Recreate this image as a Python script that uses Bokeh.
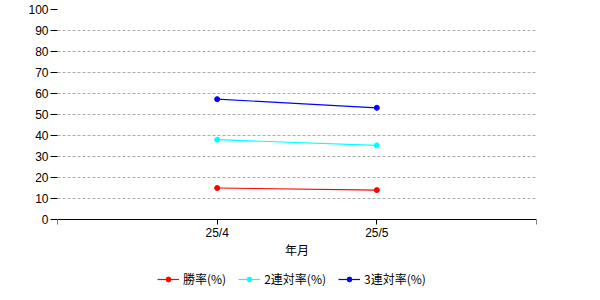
from bokeh.plotting import figure
from bokeh.models import FixedTicker, Legend, LegendItem, Range1d
from bokeh.embed import file_html
from bokeh.resources import INLINE

months = ["25/4", "25/5"]
win_rate = [15.0, 14.0]
top2_rate = [38.0, 35.3]
top3_rate = [57.3, 53.2]
series_names = ["勝率(%)", "2連対率(%)", "3連対率(%)"]
series_colors = ["#ff0000", "#00ffff", "#0000ff"]
y_ticks = list(range(0, 101, 10))

xs = list(range(1, len(months) + 1))

# plot area: y=100 at 9px, y=0 at 219px -> 2.1 px per unit; frame extends to 300px
y_min = -81 / 2.1

p = figure(frame_width=479, frame_height=291, output_backend="svg", toolbar_location=None,
           x_range=Range1d(0, len(months) + 1), y_range=Range1d(y_min, 100),
           min_border_left=57, min_border_right=64, min_border_top=9, min_border_bottom=0)
p.outline_line_color = None
p.background_fill_color = "white"
p.border_fill_color = "white"

items = []
for name, vals, col in zip(series_names, [win_rate, top2_rate, top3_rate], series_colors):
    r1 = p.line(xs, vals, line_color=col, line_width=1.2)
    r2 = p.scatter(xs, vals, size=5, fill_color=col, line_color=col)
    items.append(LegendItem(label=name, renderers=[r1, r2]))

# y axis
p.yaxis.ticker = FixedTicker(ticks=y_ticks)
p.yaxis.axis_line_color = None
p.yaxis.major_tick_out = 7
p.yaxis.major_tick_in = 0
p.yaxis.minor_tick_line_color = None
p.yaxis.major_label_standoff = 2
p.yaxis.major_label_text_font = "Liberation Sans"
p.yaxis.major_label_text_font_size = "12px"
p.yaxis.major_label_text_color = "black"

# x axis, drawn at y = 0
p.xaxis.fixed_location = 0
p.xaxis.ticker = FixedTicker(ticks=[0] + xs + [len(months) + 1])
p.xaxis.major_label_overrides = {**{x: m for x, m in zip(xs, months)}, 0: "", len(months) + 1: ""}
p.xaxis.axis_line_color = "black"
p.xaxis.major_tick_out = 5
p.xaxis.major_tick_in = 0
p.xaxis.minor_tick_line_color = None
p.xaxis.major_label_standoff = 1
p.xaxis.major_label_text_font = "Liberation Sans"
p.xaxis.major_label_text_font_size = "12px"
p.xaxis.major_label_text_color = "black"
p.xaxis.axis_label = "年月"
p.xaxis.axis_label_text_font = "Noto Sans CJK JP"
p.xaxis.axis_label_text_font_style = "normal"
p.xaxis.axis_label_text_font_size = "12px"
p.xaxis.axis_label_text_color = "black"
p.xaxis.axis_label_standoff = -2

p.xgrid.grid_line_color = None
p.ygrid.grid_line_color = "#aaaaaa"
p.ygrid.grid_line_dash = "3 2"
p.ygrid.ticker = FixedTicker(ticks=y_ticks[1:])

legend = Legend(items=items, orientation="horizontal", location=(100, 13),
                label_text_font="Noto Sans CJK JP", label_text_font_size="12px",
                label_text_color="black",
                glyph_width=22, glyph_height=12, label_standoff=4, spacing=12,
                border_line_color=None, background_fill_alpha=0, margin=0, padding=2)
p.add_layout(legend, "center")

open("out.html", "w").write(file_html(p, INLINE))
